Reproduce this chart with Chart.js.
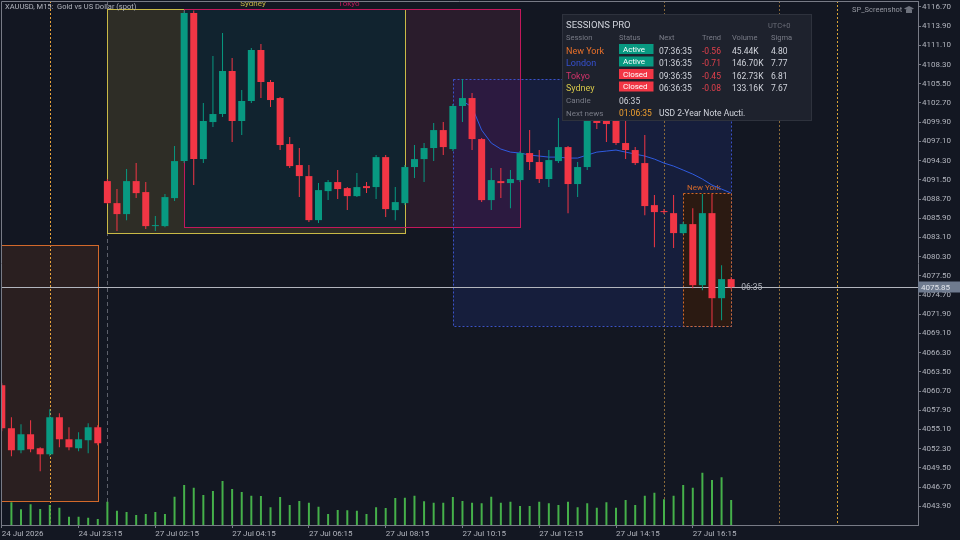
<!DOCTYPE html>
<html><head><meta charset="utf-8">
<script src="https://cdn.jsdelivr.net/npm/chart.js@4.4.1/dist/chart.umd.min.js"></script>
<style>html,body{margin:0;padding:0;background:#131722;}canvas{display:block}</style>
</head><body>
<canvas id="c" width="960" height="540"></canvas>
<script>
// ---------- DATA ----------
const symbolTitle = 'XAUUSD, M15:  Gold vs US Dollar (spot)';
const firstIndex = -1; // position of first candle on the time axis
const open = [4061.55,
 4055.28,4052.07,4054.40,4052.36,4051.48,4056.88,4053.67,4052.36,4053.53,4055.42,
 4091.31,4088.10,4086.50,4091.31,4089.71,4084.75,4084.75,4088.83,4094.23,4115.82,
 4094.52,4099.92,4101.09,4107.36,4100.07,4102.99,4110.43,4105.76,4103.42,4096.71,
 4093.65,4092.04,4085.62,4089.85,4091.17,4090.29,4089.12,4090.58,4090.44,4094.81,
 4087.08,4088.10,4093.36,4094.52,4096.13,4098.75,4095.98,4102.26,4103.42,4097.44,
 4088.54,4091.31,4091.02,4091.46,4095.40,4094.09,4091.61,4094.23,4096.27,4090.88,
 4093.36,4101.67,4100.36,4100.51,4096.86,4095.84,4093.94,4087.81,4086.94,4086.64,
 4083.73,4085.04,4076.14,4086.64,4074.24,4077.02];
const high = [4061.84,
 4056.88,4055.86,4056.44,4052.50,4058.05,4057.46,4055.42,4054.69,4056.01,4055.71,
 4091.61,4090.15,4093.06,4093.94,4091.17,4086.21,4089.42,4096.42,4116.20,4116.20,
 4102.69,4109.55,4112.91,4109.26,4104.59,4110.72,4111.30,4106.05,4103.57,4097.73,
 4096.13,4093.65,4091.02,4091.46,4092.92,4090.44,4092.48,4091.17,4095.11,4095.11,
 4090.44,4093.65,4096.57,4096.86,4099.78,4099.92,4102.55,4106.20,4104.15,4097.59,
 4093.21,4093.21,4092.92,4095.69,4098.75,4095.84,4095.84,4100.51,4096.42,4094.09,
 4102.69,4102.26,4101.23,4101.38,4100.21,4096.27,4098.02,4089.27,4087.23,4089.27,
 4085.33,4087.37,4089.42,4089.42,4079.06,4077.31];
const low = [4054.84,
 4051.19,4051.63,4051.77,4049.00,4051.19,4052.50,4052.07,4051.92,4051.63,4052.80,
 4087.96,4084.02,4085.62,4088.83,4084.31,4084.02,4084.60,4088.40,4093.94,4090.73,
 4093.94,4099.19,4100.65,4097.00,4098.02,4102.69,4103.42,4102.11,4095.84,4093.21,
 4088.98,4085.33,4085.19,4088.54,4088.69,4087.08,4088.98,4089.56,4088.69,4086.06,
 4085.62,4087.81,4091.75,4091.17,4094.23,4095.11,4095.69,4099.92,4095.84,4088.25,
 4087.08,4088.83,4087.37,4091.17,4092.92,4091.02,4090.44,4093.94,4086.64,4088.98,
 4092.92,4098.90,4097.00,4096.57,4094.52,4093.65,4086.35,4081.68,4086.50,4081.54,
 4083.58,4075.70,4075.41,4070.01,4071.03,4075.56];
const close = [4055.28,
 4052.07,4054.40,4052.21,4051.48,4056.88,4053.67,4052.50,4053.67,4055.42,4053.09,
 4088.10,4086.50,4091.31,4089.56,4084.75,4084.89,4088.98,4094.23,4115.82,4094.52,
 4100.07,4101.09,4107.36,4100.07,4102.99,4110.43,4105.76,4103.13,4096.57,4093.50,
 4092.04,4085.62,4090.00,4091.17,4090.15,4089.12,4090.44,4090.29,4094.81,4087.23,
 4088.25,4093.36,4094.52,4096.13,4098.75,4096.27,4102.26,4103.42,4097.44,4088.54,
 4091.46,4091.02,4091.61,4095.40,4094.09,4091.61,4094.38,4096.27,4090.88,4093.36,
 4101.67,4099.78,4099.63,4096.86,4095.84,4093.94,4087.67,4086.79,4086.79,4083.73,
 4085.04,4076.14,4086.64,4074.24,4077.02,4075.85];
const volume = [null,
 91,63,83,64,80,69,33,33,29,24,
 93,57,52,40,44,52,44,113,160,149,
 120,136,176,144,132,117,116,71,112,80,
 96,89,73,44,60,59,57,44,71,68,
 108,109,117,95,89,89,112,96,89,87,
 113,89,93,76,76,93,87,80,93,71,
 87,69,91,69,100,80,117,129,103,117,
 160,149,209,180,191,100];
const vwapStart = 47;
const vwap = [4102.99,4102.11,4098.75,4096.86,4095.98,4095.54,4095.40,4095.11,4094.96,4094.81,
 4094.81,4094.67,4094.67,4095.11,4095.54,4095.69,4095.84,4095.54,4095.25,4094.96,
 4094.52,4093.94,4093.50,4092.92,4092.33,4091.61,4090.73,4090.15,4089.56];

const timeTickIdx = [-1,7,15,23,31,39,47,55,63,71];
const timeTickLabels = ['24 Jul 2026','24 Jul 23:15','27 Jul 02:15','27 Jul 04:15','27 Jul 06:15',
 '27 Jul 08:15','27 Jul 10:15','27 Jul 12:15','27 Jul 14:15','27 Jul 16:15'];
const priceTicks = [4116.70,4113.90,4111.10,4108.30,4105.50,4102.70,4099.90,4097.10,4094.30,4091.50,
 4088.70,4085.90,4083.10,4080.30,4077.50,4074.70,4071.90,4069.10,4066.30,4063.50,4060.70,
 4057.90,4055.10,4052.30,4049.50,4046.70,4043.90];

// sessions (boxes)
const sessionName  = ['New York','Sydney','Tokyo','London','New York'];
const sessionStart = [-1.3, 10, 18, 46, 70];
const sessionEnd   = [9, 41, 53, 75, 75];
const sessionHigh  = [4081.98, 4116.36, 4116.36, 4106.15, 4089.61];
const sessionLow   = [4044.63, 4083.68, 4084.56, 4070.16, 4070.16];
const sessionLabelShown = [false, true, true, false, true];
const sessionStartMarks = [4, 10, 68, 80, 86];
const candleCountdown = '06:35';

// panel table
const tblSession = ['New York','London','Tokyo','Sydney'];
const tblStatus  = ['Active','Active','Closed','Closed'];
const tblNext    = ['07:36:35','01:36:35','09:36:35','06:36:35'];
const tblTrend   = ['-0.56','-0.71','-0.45','-0.08'];
const tblVolume  = ['45.44K','146.70K','162.73K','133.16K'];
const tblSigma   = ['4.80','7.77','6.81','7.67'];
const tblNextNewsIn = '01:06:35';
const tblNextNews = 'USD 2-Year Note Aucti.';

// ---------- STYLE ----------
const BG = '#131722', UP = '#089981', DN = '#f23645', AXIS = '#787b86', TXT = '#b2b5be';
const VOL_COLOR = '#45b04a';
const VOL_MAX = 2096;
const XMIN = -1.0837, XMAX = 94.467, YMIN = 4041.17, YMAX = 4117.57;
const SESS_STYLE = [
  {fill:'#2a1f20', stroke:'#d2692b', dash:[]},
  {fill:'#2e2d26', stroke:'#c9b946', dash:[]},
  {fill:'#2a1c2c', stroke:'#c2185b', dash:[]},
  {fill:'#161e3c', stroke:'#3a52c8', dash:[2,2]},
  {fill:'#2b1a12', stroke:'#d2692b', dash:[2,2]}
];
const OVERLAP_FILL = {'1-2':'#11232f', '2-3':'#2c1a40'};
const MARK_STYLE = [
  {c:'#e8a33a', d:[2,2]}, {c:'#5d606b', d:[4,3]}, {c:'#8a6a3a', d:[2,2]}, {c:'#8a6a3a', d:[2,2]}, {c:'#d9a334', d:[2,2]}
];
const NAME_COLOR = ['#e8702a','#3550d0','#d0336a','#d6c74a'];
const FONT = 'Roboto, "Open Sans", sans-serif';

Chart.defaults.font.family = FONT;

const idx = open.map((_, k) => firstIndex + k);
const candleColors = open.map((o, k) => close[k] >= o ? UP : DN);

const sessPlugin = {
  id: 'sess',
  beforeDraw(chart) {
    const c = chart.ctx;
    c.save(); c.fillStyle = BG; c.fillRect(0, 0, chart.width, chart.height); c.restore();
  },
  beforeDatasetsDraw(chart) {
    const c = chart.ctx, a = chart.chartArea, x = chart.scales.x, y = chart.scales.y;
    const R = k => {
      const l = Math.round(x.getPixelForValue(sessionStart[k])), r = Math.round(x.getPixelForValue(sessionEnd[k]));
      const t = Math.round(y.getPixelForValue(sessionHigh[k])), b = Math.round(y.getPixelForValue(sessionLow[k]));
      return {l, r, t, b};
    };
    const fill = (rc, col) => { c.fillStyle = col; c.fillRect(rc.l, rc.t, rc.r - rc.l, rc.b - rc.t); };
    const inter = (p, q) => ({l: Math.max(p.l, q.l), r: Math.min(p.r, q.r), t: Math.max(p.t, q.t), b: Math.min(p.b, q.b)});
    c.save();
    c.beginPath(); c.rect(a.left, a.top, a.right - a.left, a.bottom - a.top); c.clip();
    const rs = sessionStart.map((_, k) => R(k));
    fill(rs[0], SESS_STYLE[0].fill);
    fill(rs[1], SESS_STYLE[1].fill);
    fill(rs[2], SESS_STYLE[2].fill);
    fill(inter(rs[1], rs[2]), OVERLAP_FILL['1-2']);
    fill(rs[3], SESS_STYLE[3].fill);
    fill(inter(rs[2], rs[3]), OVERLAP_FILL['2-3']);
    fill(rs[4], SESS_STYLE[4].fill);
    // session start marks
    sessionStartMarks.forEach((m, k) => {
      const px = Math.round(x.getPixelForValue(m)) + 0.5;
      c.strokeStyle = MARK_STYLE[k].c; c.lineWidth = 1; c.setLineDash(MARK_STYLE[k].d);
      c.beginPath(); c.moveTo(px, a.top); c.lineTo(px, a.bottom); c.stroke();
    });
    // borders
    [0, 1, 2, 3, 4].forEach(k => {
      const rc = rs[k];
      c.strokeStyle = SESS_STYLE[k].stroke; c.setLineDash(SESS_STYLE[k].dash); c.lineWidth = 1;
      c.strokeRect(rc.l + 0.5, rc.t + 0.5, rc.r - rc.l, rc.b - rc.t);
    });
    c.setLineDash([]);
    // current price line
    const py = Math.round(y.getPixelForValue(close[close.length - 1])) + 0.5;
    c.strokeStyle = TXT; c.lineWidth = 1;
    c.beginPath(); c.moveTo(0, py); c.lineTo(a.right, py); c.stroke();
    c.restore();
    // session labels
    c.save();
    c.font = '8px ' + FONT; c.textAlign = 'center'; c.textBaseline = 'middle';
    rs.forEach((rc, k) => {
      if (!sessionLabelShown[k]) return;
      c.fillStyle = SESS_STYLE[k].stroke;
      c.fillText(sessionName[k], (rc.l + rc.r) / 2 - 3, rc.t - 5.5);
    });
    c.restore();
  },
  afterDraw(chart) {
    const c = chart.ctx, a = chart.chartArea, x = chart.scales.x, y = chart.scales.y;
    c.save();
    // plot frame (top/left)
    c.strokeStyle = AXIS; c.lineWidth = 1;
    c.beginPath(); c.moveTo(a.left + 0.5, a.bottom); c.lineTo(a.left + 0.5, a.top + 0.5); c.lineTo(a.right, a.top + 0.5); c.stroke();
    const last = close[close.length - 1];
    const py = Math.round(y.getPixelForValue(last)) + 0.5;
    // countdown text near price line
    c.font = '8.5px ' + FONT; c.fillStyle = TXT; c.textBaseline = 'middle'; c.textAlign = 'left';
    c.fillText(candleCountdown, x.getPixelForValue(idx[idx.length - 1]) + 10, py);
    // axis price label
    c.fillStyle = '#6f7b8f'; c.fillRect(a.right, py - 6, 42, 11);
    c.fillStyle = '#e3e6ec'; c.font = '8px ' + FONT;
    c.fillText(last.toFixed(2), a.right + 3, py);
    // title
    c.fillStyle = TXT; c.font = '7.5px ' + FONT;
    c.fillText(symbolTitle, 5, 7.5);
    // SP_Screenshot
    c.fillStyle = '#9598a1'; c.font = '7.5px ' + FONT;
    c.fillText('SP_Screenshot', 852, 10);
    c.fillStyle = '#6d717c';
    c.beginPath(); c.moveTo(904, 8.5); c.lineTo(909, 6); c.lineTo(914, 8.5); c.lineTo(909, 11); c.closePath(); c.fill();
    c.fillRect(906, 10, 6, 3);
    // panel
    const T = {x: 562, y: 14, w: 250, h: 107};
    c.fillStyle = '#1e222d'; c.fillRect(T.x, T.y, T.w, T.h);
    c.strokeStyle = '#2e323d'; c.strokeRect(T.x + 0.5, T.y + 0.5, T.w - 1, T.h - 1);
    c.fillStyle = '#d1d4dc'; c.font = '9.5px ' + FONT;
    c.fillText('SESSIONS PRO', 566, 26);
    c.fillStyle = '#6a6d78'; c.font = '7.5px ' + FONT;
    c.fillText('UTC+0', 768, 26);
    c.fillStyle = '#787b86'; c.font = '7.5px ' + FONT;
    const cols = [566, 619, 659, 702, 732, 771];
    ['Session','Status','Next','Trend','Volume','Sigma'].forEach((h, k) => c.fillText(h, cols[k], 38.5));
    const rowsY = [51.5, 64, 76.5, 89];
    tblSession.forEach((nm, r) => {
      const ry = rowsY[r];
      c.font = '9px ' + FONT; c.fillStyle = NAME_COLOR[r]; c.fillText(nm, cols[0], ry);
      c.fillStyle = tblStatus[r] === 'Active' ? UP : DN;
      c.fillRect(619, ry - 7.5, 34.5, 10);
      c.fillStyle = '#ffffff'; c.font = '8px ' + FONT; c.fillText(tblStatus[r], 623, ry - 2);
      c.font = '8.5px ' + FONT; c.fillStyle = '#d1d4dc'; c.fillText(tblNext[r], cols[2], ry);
      c.fillStyle = '#e0404c'; c.fillText(tblTrend[r], cols[3], ry);
      c.fillStyle = '#d1d4dc'; c.fillText(tblVolume[r], cols[4], ry); c.fillText(tblSigma[r], cols[5], ry);
    });
    c.font = '8px ' + FONT; c.fillStyle = '#787b86';
    c.fillText('Candle', 566, 101); c.fillText('Next news', 566, 113.5);
    c.font = '8.5px ' + FONT; c.fillStyle = '#d1d4dc'; c.fillText(candleCountdown, 619, 101.5);
    c.fillStyle = '#f0a030'; c.fillText(tblNextNewsIn, 619, 114);
    c.fillStyle = '#d1d4dc'; c.fillText(tblNextNews, 659, 114);
    c.restore();
  }
};

new Chart(document.getElementById('c'), {
  type: 'bar',
  data: { datasets: [
    {type:'bar', label:'Volume', yAxisID:'yv', data: idx.map((i, k) => ({x:i, y:volume[k]})),
     backgroundColor: VOL_COLOR, barThickness: 2, order: 5},
    {type:'line', label:'VWAP', yAxisID:'y', data: vwap.map((v, k) => ({x: vwapStart + k, y: v})),
     borderColor:'#2f5be0', borderWidth:1, pointRadius:0, tension:0, order: 4},
    {type:'bar', label:'Wicks', yAxisID:'y', data: idx.map((i, k) => ({x:i, y:[low[k], high[k]]})),
     backgroundColor: candleColors, barThickness: 1, order: 3},
    {type:'bar', label:'Bodies', yAxisID:'y', data: idx.map((i, k) => ({x:i, y:[open[k], close[k]]})),
     backgroundColor: candleColors, barThickness: 7, minBarLength: 1, order: 2}
  ]},
  options: {
    responsive:false, animation:false, devicePixelRatio:1,
    layout:{padding:{left:1, top:1, right:0, bottom:0}},
    plugins:{legend:{display:false}, tooltip:{enabled:false}},
    datasets:{bar:{grouped:false, borderWidth:0, inflateAmount:0}},
    scales:{
      x:{type:'linear', min:XMIN, max:XMAX, offset:false, position:'bottom',
        grid:{display:true, offset:false, drawOnChartArea:false, drawTicks:true, tickLength:3, color:AXIS},
        border:{display:true, color:AXIS},
        ticks:{autoSkip:false, maxRotation:0, minRotation:0, align:'start', padding:1, color:TXT, font:{size:8},
          callback: v => { const j = timeTickIdx.indexOf(v); return j >= 0 ? timeTickLabels[j] : ''; }},
        afterBuildTicks: s => { s.ticks = timeTickIdx.map(v => ({value:v})); },
        afterFit: s => { s.height = 15; s.paddingLeft = 0; s.paddingRight = 0; }},
      y:{type:'linear', position:'right', min:YMIN, max:YMAX,
        grid:{drawOnChartArea:false, drawTicks:true, tickLength:3, color:AXIS},
        border:{display:true, color:AXIS},
        ticks:{autoSkip:false, padding:1, color:TXT, font:{size:8}, callback: v => Number(v).toFixed(2)},
        afterBuildTicks: s => { s.ticks = priceTicks.map(v => ({value:v})); },
        afterFit: s => { s.width = 42; s.paddingTop = 0; s.paddingBottom = 0; }},
      yv:{type:'linear', display:false, min:0, max:VOL_MAX}
    }
  },
  plugins:[sessPlugin]
});
</script>
</body></html>
